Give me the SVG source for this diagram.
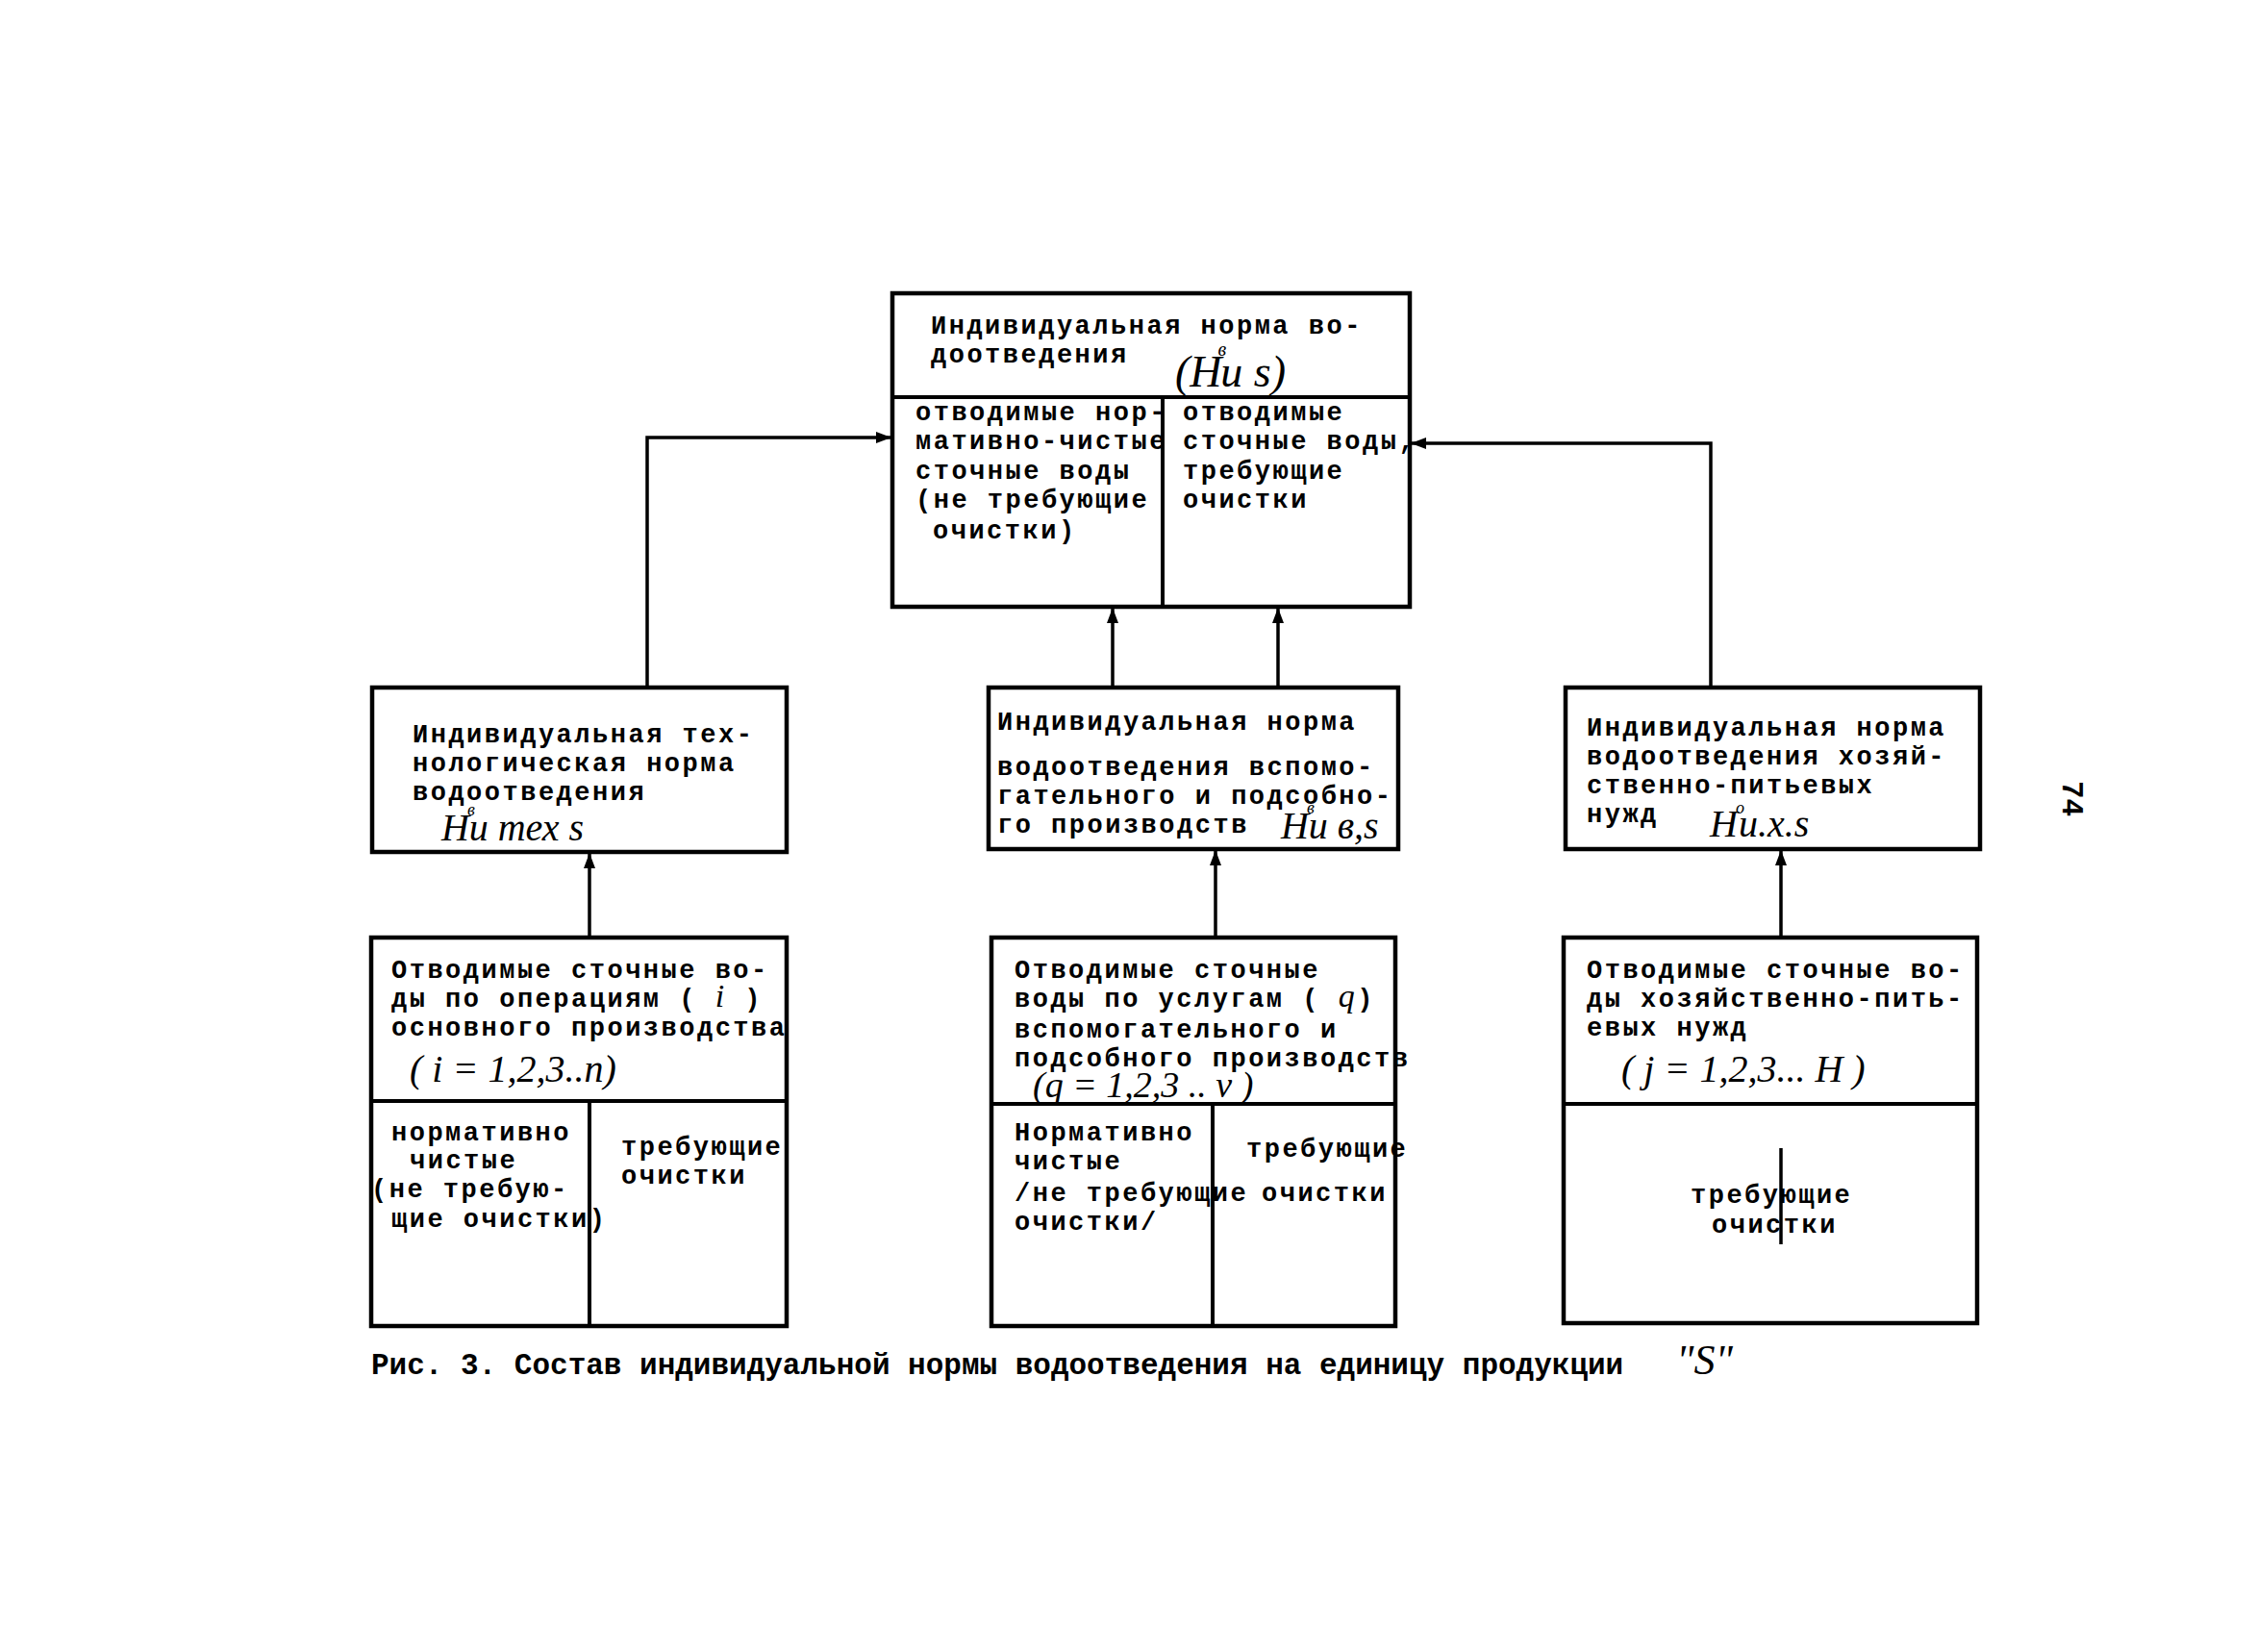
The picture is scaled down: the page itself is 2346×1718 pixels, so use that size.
<svg xmlns="http://www.w3.org/2000/svg" width="2346" height="1718" viewBox="0 0 2346 1718">
<style>
.box{fill:none;stroke:#000;stroke-width:4.5}
.div{stroke:#000;stroke-width:4}
.con{fill:none;stroke:#000;stroke-width:3.5}
.t{font-family:"Liberation Mono","DejaVu Sans Mono",monospace;font-size:27px;letter-spacing:2.5px;font-weight:bold;fill:#000}
.cap{font-family:"Liberation Mono","DejaVu Sans Mono",monospace;font-size:31px;font-weight:bold;fill:#000}
.h{font-family:"Liberation Serif","DejaVu Serif",serif;font-style:italic;fill:#000}
</style>
<defs>
<marker id="arr" viewBox="0 0 16 12" refX="15" refY="6" markerWidth="16" markerHeight="12" markerUnits="userSpaceOnUse" orient="auto">
<path d="M0,0 L16,6 L0,12 z" fill="#000"/>
</marker>
</defs>
<rect width="2346" height="1718" fill="#fff"/>

<g id="connectors">
<polyline class="con" points="673,715 673,455 926,455" marker-end="url(#arr)"/>
<polyline class="con" points="1779,715 1779,461 1468,461" marker-end="url(#arr)"/>
<line class="con" x1="1157" y1="715" x2="1157" y2="633" marker-end="url(#arr)"/>
<line class="con" x1="1329" y1="715" x2="1329" y2="633" marker-end="url(#arr)"/>
<line class="con" x1="613" y1="975" x2="613" y2="888" marker-end="url(#arr)"/>
<line class="con" x1="1264" y1="975" x2="1264" y2="885" marker-end="url(#arr)"/>
<line class="con" x1="1852" y1="975" x2="1852" y2="885" marker-end="url(#arr)"/>
</g>

<g id="top">
<rect class="box" x="928" y="305" width="538" height="326"/>
<line class="div" x1="928" y1="413" x2="1466" y2="413"/>
<line class="div" x1="1209" y1="413" x2="1209" y2="631"/>
<text class="t" x="968" y="347">Индивидуальная норма во-</text>
<text class="t" x="968" y="377">доотведения</text>
<text class="h" x="1222" y="402" font-size="46">(H<tspan font-size="20" dy="-32" dx="-4">в</tspan><tspan dy="32" dx="-6">и</tspan> s)</text>
<text class="t" x="952" y="437">отводимые нор-</text>
<text class="t" x="952" y="467">мативно-чистые</text>
<text class="t" x="952" y="498">сточные воды</text>
<text class="t" x="952" y="528">(не требующие</text>
<text class="t" x="970" y="560">очистки)</text>
<text class="t" x="1230" y="437">отводимые</text>
<text class="t" x="1230" y="467">сточные воды,</text>
<text class="t" x="1230" y="498">требующие</text>
<text class="t" x="1230" y="528">очистки</text>
</g>

<g id="mid-left">
<rect class="box" x="387" y="715" width="431" height="171"/>
<text class="t" x="429" y="772">Индивидуальная тех-</text>
<text class="t" x="429" y="802">нологическая норма</text>
<text class="t" x="429" y="832">водоотведения</text>
<text class="h" x="459" y="874" font-size="40">H<tspan font-size="18" dy="-26" dx="-2">в</tspan><tspan dy="26" dx="-6">и тех s</tspan></text>
</g>

<g id="mid-center">
<rect class="box" x="1028" y="715" width="426" height="168"/>
<text class="t" x="1037" y="759">Индивидуальная норма</text>
<text class="t" x="1037" y="806">водоотведения вспомо-</text>
<text class="t" x="1037" y="836">гательного и подсобно-</text>
<text class="t" x="1037" y="866">го производств</text>
<text class="h" x="1332" y="872" font-size="40">H<tspan font-size="18" dy="-26" dx="-2">в</tspan><tspan dy="26" dx="-6">и в,s</tspan></text>
</g>

<g id="mid-right">
<rect class="box" x="1628" y="715" width="431" height="168"/>
<text class="t" x="1650" y="765">Индивидуальная норма</text>
<text class="t" x="1650" y="795">водоотведения хозяй-</text>
<text class="t" x="1650" y="825">ственно-питьевых</text>
<text class="t" x="1650" y="855">нужд</text>
<text class="h" x="1778" y="870" font-size="40">H<tspan font-size="18" dy="-24" dx="-2">о</tspan><tspan dy="24" dx="-6">и.х.s</tspan></text>
</g>

<g id="bottom-left">
<rect class="box" x="386" y="975" width="432" height="404"/>
<line class="div" x1="386" y1="1145" x2="818" y2="1145"/>
<line class="div" x1="613" y1="1145" x2="613" y2="1379"/>
<text class="t" x="407" y="1017">Отводимые сточные во-</text>
<text class="t" x="407" y="1047">ды по операциям ( <tspan class="h" font-size="34" font-weight="normal">i</tspan> )</text>
<text class="t" x="407" y="1077">основного производства</text>
<text class="h" x="426" y="1125" font-size="40">( i = 1,2,3..n)</text>
<text class="t" x="407" y="1186">нормативно</text>
<text class="t" x="426" y="1215">чистые</text>
<text class="t" x="386" y="1245">(не требую-</text>
<text class="t" x="407" y="1276">щие очистки)</text>
<text class="t" x="646" y="1201">требующие</text>
<text class="t" x="646" y="1231">очистки</text>
</g>

<g id="bottom-center">
<rect class="box" x="1031" y="975" width="420" height="404"/>
<line class="div" x1="1031" y1="1148" x2="1451" y2="1148"/>
<line class="div" x1="1261" y1="1148" x2="1261" y2="1379"/>
<text class="t" x="1055" y="1017">Отводимые сточные</text>
<text class="t" x="1055" y="1047">воды по услугам ( <tspan class="h" font-size="34" font-weight="normal">q</tspan>)</text>
<text class="t" x="1055" y="1079">вспомогательного и</text>
<text class="t" x="1055" y="1109">подсобного производств</text>
<text class="h" x="1074" y="1141" font-size="38">(q = 1,2,3 .. v       )</text>
<text class="t" x="1055" y="1186">Нормативно</text>
<text class="t" x="1055" y="1216">чистые</text>
<text class="t" x="1055" y="1249">/не требующие</text>
<text class="t" x="1055" y="1279">очистки/</text>
<text class="t" x="1296" y="1203">требующие</text>
<text class="t" x="1312" y="1249">очистки</text>
</g>

<g id="bottom-right">
<rect class="box" x="1626" y="975" width="430" height="401"/>
<line class="div" x1="1626" y1="1148" x2="2056" y2="1148"/>
<text class="t" x="1650" y="1017">Отводимые сточные во-</text>
<text class="t" x="1650" y="1047">ды хозяйственно-пить-</text>
<text class="t" x="1650" y="1077">евых нужд</text>
<text class="h" x="1686" y="1125" font-size="40">( j = 1,2,3... H )</text>
<text class="t" x="1758" y="1251">требующие</text>
<text class="t" x="1780" y="1282">очистки</text>
<line class="con" x1="1852" y1="1194" x2="1852" y2="1294"/>
</g>

<g id="caption">
<text class="cap" x="386" y="1429">Рис. 3. Состав индивидуальной нормы водоотведения на единицу продукции</text>
<text class="h" x="1743" y="1429" font-size="44">"S"</text>
</g>

<text class="cap" x="2145" y="812" transform="rotate(90 2145 812)" font-size="36">74</text>
</svg>
